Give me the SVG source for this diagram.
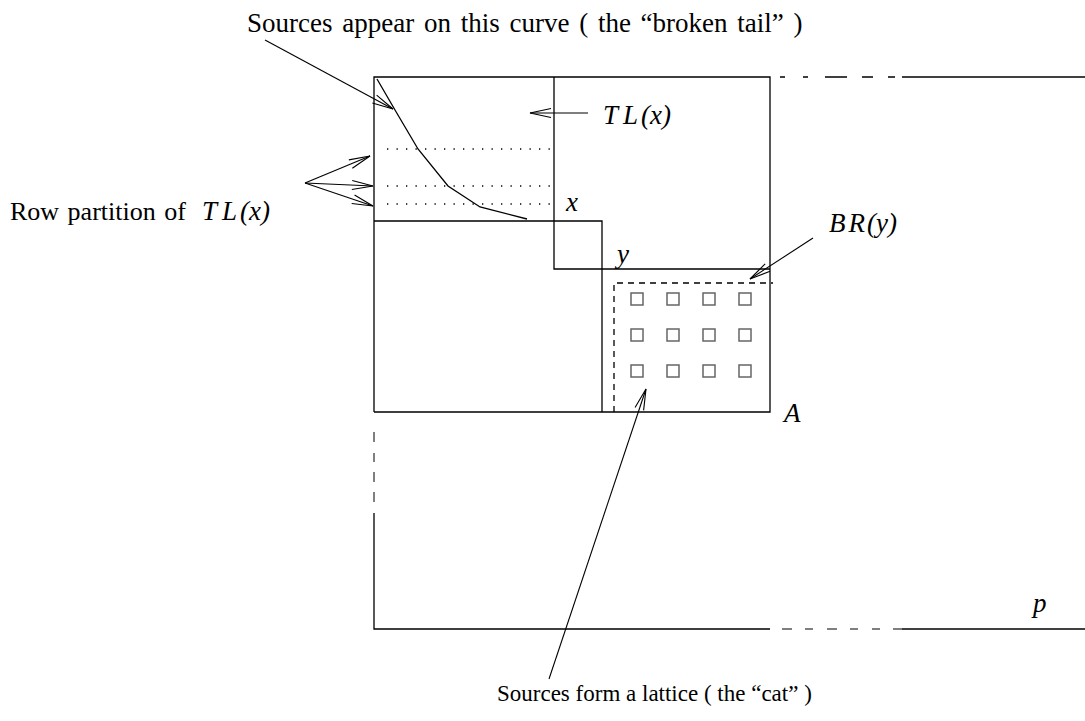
<svg xmlns="http://www.w3.org/2000/svg" width="1085" height="721" viewBox="0 0 1085 721">
<style>
.ln{stroke:#000;stroke-width:1.3;fill:none}
.dot{stroke:#000;stroke-width:1.3;fill:none;stroke-dasharray:1.3 8.2}
.dsh{stroke:#000;stroke-width:1.3;fill:none;stroke-dasharray:6 5}
.gd{stroke:#555;stroke-width:1.5;fill:none}
.sq{stroke:#666;stroke-width:1.5;fill:none}
.ar{stroke:#000;stroke-width:1.1;fill:none;marker-end:url(#open)}
text{fill:#000}
</style>
<defs>
<marker id="open" markerUnits="userSpaceOnUse" markerWidth="30" markerHeight="20" refX="0" refY="0" viewBox="-25 -10 30 20" orient="auto" overflow="visible">
<path d="M-21,-4.5 L0,0 L-21,4.5" fill="none" stroke="#000" stroke-width="1.1"/>
</marker>
</defs>
<g id="frame">
<path class="ln" d="M374,412 L374,77 L770,77 L770,412 L374,412"/>
<path class="ln" d="M902,77 L1085,77"/>
<path class="ln" d="M780,77 L785,77 M803,77 L808,77 M825,77 L847,77 M862,77 L873,77 M888,77 L895,77"/>
<path class="gd" d="M374,432 L374,442 M374,453 L374,462 M374,472 L374,482 M374,492 L374,502"/>
<path class="ln" d="M374,513 L374,629 L770,629"/>
<path class="gd" d="M782,629 L792,629 M805,629 L813,629 M827,629 L837,629 M850,629 L858,629 M872,629 L880,629 M893,629 L902,629"/>
<path class="ln" d="M902,629 L1085,629"/>
</g>
<g id="TL">
<path class="ln" d="M554,77 L554,269 L770,269"/>
<path class="ln" d="M374,221 L602,221 L602,412"/>
<path class="dot" d="M387,149 L554,149 M387,186 L554,186 M387,204 L554,204"/>
<path class="ln" d="M377,79 L395,110 L418,149 L448,186 L480,207 L527,219"/>
</g>
<g id="BR">
<path class="dsh" d="M614,412 L614,283 L773,283"/>
<g id="lattice">
<rect class="sq" x="631" y="293" width="12" height="12"/>
<rect class="sq" x="667" y="293" width="12" height="12"/>
<rect class="sq" x="703" y="293" width="12" height="12"/>
<rect class="sq" x="739" y="293" width="12" height="12"/>
<rect class="sq" x="631" y="329" width="12" height="12"/>
<rect class="sq" x="667" y="329" width="12" height="12"/>
<rect class="sq" x="703" y="329" width="12" height="12"/>
<rect class="sq" x="739" y="329" width="12" height="12"/>
<rect class="sq" x="631" y="365" width="12" height="12"/>
<rect class="sq" x="667" y="365" width="12" height="12"/>
<rect class="sq" x="703" y="365" width="12" height="12"/>
<rect class="sq" x="739" y="365" width="12" height="12"/>
</g>
</g>
<g id="connectors">
<line class="ar" x1="265" y1="40" x2="393" y2="109"/>
<line class="ar" x1="588" y1="113" x2="530" y2="113"/>
<line class="ar" x1="305" y1="183" x2="370" y2="156"/>
<line class="ar" x1="305" y1="183" x2="373" y2="186"/>
<line class="ar" x1="305" y1="183" x2="373" y2="206"/>
<line class="ar" x1="813" y1="238" x2="750" y2="279"/>
<line class="ar" x1="549" y1="679" x2="646" y2="389"/>
</g>
<g id="labels" font-family="Liberation Serif, serif">
<text x="247" y="32" font-size="27" word-spacing="3">Sources appear on this curve ( the “broken tail” )</text>
<text x="603" y="124" font-size="27" font-style="italic">T<tspan dx="5">L</tspan><tspan dx="3">(x)</tspan></text>
<text x="10" y="220" font-size="26" word-spacing="2">Row partition of</text>
<text x="202" y="220" font-size="27" font-style="italic">T<tspan dx="5">L</tspan><tspan dx="3">(x)</tspan></text>
<text x="566" y="211" font-size="27" font-style="italic">x</text>
<text x="617" y="263" font-size="27" font-style="italic">y</text>
<text x="829" y="232" font-size="27" font-style="italic">B<tspan dx="3">R</tspan><tspan dx="2">(y)</tspan></text>
<text x="784" y="422" font-size="27" font-style="italic">A</text>
<text x="1033" y="612" font-size="27" font-style="italic">p</text>
<text x="497" y="701" font-size="23">Sources form a lattice ( the “cat” )</text>
</g>
</svg>
